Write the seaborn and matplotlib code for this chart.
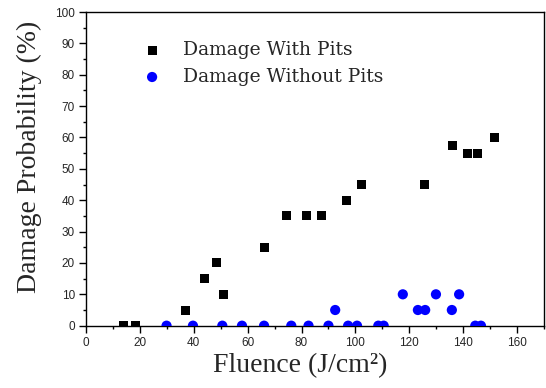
import numpy as np
import pandas as pd
import seaborn as sns
import matplotlib.pyplot as plt
from matplotlib.ticker import MultipleLocator

# %% Data
with_pits_fluence = [13.8, 18.5, 37.1, 44.1, 48.6, 51.1, 66.1, 74.3, 82.0, 87.4,
                     96.7, 102.3, 125.5, 136.1, 141.6, 145.4, 151.6]
with_pits_prob = [0, 0, 5, 15, 20, 10, 25, 35, 35, 35,
                  40, 45, 45, 57.5, 55, 55, 60]

without_pits_fluence = [29.9, 39.7, 50.6, 57.9, 66.1, 76.2, 82.6, 90.0, 92.5, 97.3,
                        100.6, 108.5, 110.5, 117.6, 123.2, 125.9, 129.9, 135.8,
                        138.5, 144.5, 146.6]
without_pits_prob = [0, 0, 0, 0, 0, 0, 0, 0, 5, 0,
                     0, 0, 0, 10, 5, 5, 10, 5,
                     10, 0, 0]

series_names = ["Damage With Pits", "Damage Without Pits"]

# %% Build long table
df = pd.concat([
    pd.DataFrame({"fluence": with_pits_fluence, "prob": with_pits_prob, "series": series_names[0]}),
    pd.DataFrame({"fluence": without_pits_fluence, "prob": without_pits_prob, "series": series_names[1]}),
], ignore_index=True)

# %% Plot
sns.set_style("ticks")
plt.rcParams["font.family"] = ["Liberation Sans", "DejaVu Sans"]
plt.rcParams["xtick.direction"] = "out"
plt.rcParams["ytick.direction"] = "out"

fig = plt.figure(figsize=(5.46, 3.88), dpi=100)
ax = fig.add_axes([0.1575, 0.1606, 0.8388, 0.8084])

palette = {series_names[0]: "black", series_names[1]: "#0000ff"}
markers = {series_names[0]: "s", series_names[1]: "o"}
sizes_pt = {series_names[0]: 42, series_names[1]: 54}
for name in series_names:
    sub = df[df.series == name]
    sns.scatterplot(data=sub, x="fluence", y="prob", color=palette[name], marker=markers[name],
                    s=sizes_pt[name], edgecolor="none", linewidth=0, label=name, ax=ax,
                    zorder=3, clip_on=True)

ax.set_xlim(0, 170)
ax.set_ylim(0, 100)
ax.set_xticks(np.arange(0, 161, 20))
ax.xaxis.set_minor_locator(MultipleLocator(10))
ax.yaxis.set_major_locator(MultipleLocator(10))
ax.yaxis.set_minor_locator(MultipleLocator(5))
ax.tick_params(which="major", length=5, width=1, color="black", labelsize=8.5, pad=3)
ax.tick_params(which="minor", length=2.5, width=1, color="black")

for sp in ax.spines.values():
    sp.set_visible(True)
    sp.set_color("black")
    sp.set_linewidth(1)

ax.set_xlabel("Fluence (J/cm²)", family="Liberation Serif", fontsize=20)
ax.set_ylabel("Damage Probability (%)", family="Liberation Serif", fontsize=20)
ax.xaxis.set_label_coords(0.467, -0.088)
ax.yaxis.set_label_coords(-0.096, 0.538)

leg = ax.legend(loc="upper left", bbox_to_anchor=(0.087, 0.93), frameon=False,
                prop={"family": "DejaVu Serif", "size": 13.5},
                handlelength=2.0, handletextpad=0.65, labelspacing=0.45, borderaxespad=0)

fig.savefig("out.png", dpi=100)
